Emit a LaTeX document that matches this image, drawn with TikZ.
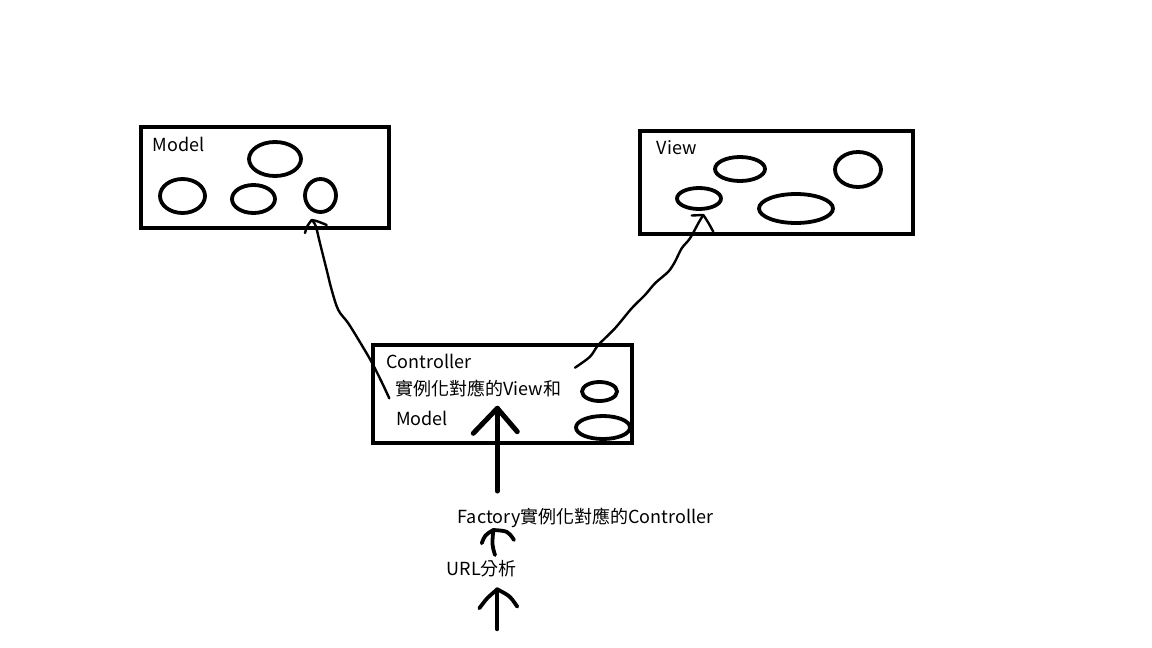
\documentclass[tikz,border=0pt]{standalone}
\usepackage{fontspec}
\setmainfont{Noto Sans CJK TC}
\begin{document}
\begin{tikzpicture}[x=1pt,y=-1pt,
  box/.style={draw=black, line width=4.4pt, rectangle, inner sep=0pt},
  blob/.style={draw=black, line width=3.8pt},
  pen/.style={draw=black, line width=2.4pt, line cap=round, line join=round},
  bigpen/.style={draw=black, line width=5pt, line cap=round, line join=round},
  midpen/.style={draw=black, line width=3.8pt, line cap=round, line join=round},
  lbl/.style={anchor=base west, inner sep=0pt, font=\fontsize{18}{20}\selectfont, text=black}]
\useasboundingbox (0,0) rectangle (1152,648);
\fill[white] (0,0) rectangle (1152,648);

% boxes
\node[box, minimum width=248pt, minimum height=101pt] (model) at (265,177.5) {};
\node[box, minimum width=273pt, minimum height=103pt] (view) at (776.5,182.5) {};
\node[box, minimum width=259pt, minimum height=98pt] (ctrl) at (502.5,394) {};

% ellipses in Model
\draw[blob] (182.5,196) ellipse [x radius=22.5, y radius=17];
\draw[blob] (253.5,199) ellipse [x radius=21.5, y radius=14];
\draw[blob] (275,159) ellipse [x radius=26, y radius=17];
\draw[blob] (320.5,195.5) ellipse [x radius=15.5, y radius=16.5];
% ellipses in View
\draw[blob] (740,169) ellipse [x radius=25, y radius=12];
\draw[blob] (699,198.5) ellipse [x radius=22, y radius=10.5];
\draw[blob] (796,208.5) ellipse [x radius=37, y radius=14.5];
\draw[blob] (858,169.5) ellipse [x radius=23, y radius=17.5];
% ellipses in Controller
\draw[blob] (599.5,391.5) ellipse [x radius=17.5, y radius=9.5];
\draw[blob] (603,427.5) ellipse [x radius=27, y radius=11.5];

% labels
\node[lbl] (tmodel) at (152.5,151) {Model};
\node[lbl] (tview) at (656.5,154) {View};
\node[lbl] (tctrl) at (386,368) {Controller};
\node[lbl] (tctrl2) at (395,395) {實例化對應的View和};
\node[lbl] (tctrl3) at (396,425) {Model};
\node[lbl] (tfact) at (457.5,523.5) {Factory實例化對應的Controller};
\node[lbl] (turl) at (446.5,575) {URL分析};

% Controller -> Model curve
\coordinate (ms) at (389.3,398.3);
\coordinate (mt) at (311.7,220);
\draw[pen] plot[smooth, tension=0.55] coordinates {(ms) (382.3,383.3) (372.3,363.3) (361.7,345) (348.3,323.3) (338.3,310) (331.7,290) (326.7,270) (320,243.3) (315.7,226) (mt)};
\draw[pen] (305,233) .. controls (307,226) .. (mt) .. controls (317,221) .. (326.7,225);

% Controller -> View curve
\coordinate (vs) at (575,367.7);
\coordinate (vt) at (703.3,215);
\draw[pen] plot[smooth, tension=0.5] coordinates {(vs) (590,356.7) (598.3,345) (615,328.3) (631.7,308.3) (645,295) (655,283.3) (668.3,271.7) (675,261.7) (681.7,248.3) (690,238.3) (699,222) (vt)};
\draw[pen] (691.7,215.5) -- (vt) .. controls (708,222) .. (713.3,231.7);

% Factory -> Controller big arrow
\coordinate (fb) at (497.3,491);
\coordinate (ft) at (497.3,408.3);
\draw[bigpen] (fb) -- (ft);
\draw[bigpen] (473.3,433.3) -- (ft) -- (517.3,431.7);

% URL -> Factory small arrow
\coordinate (ub) at (495,555);
\coordinate (ut) at (493.3,530);
\draw[midpen] (ub) .. controls (492,545) .. (ut);
\draw[midpen] (481.7,543.3) .. controls (485,535) .. (ut) .. controls (508,531) .. (514,540);

% bottom arrow
\coordinate (bb) at (497.3,629.3);
\coordinate (bt) at (497.3,589.3);
\draw[midpen] (bb) -- (bt);
\draw[midpen] (479.3,608.3) .. controls (487,598) .. (bt) .. controls (510,596) .. (517.3,606.7);
\end{tikzpicture}
\end{document}
